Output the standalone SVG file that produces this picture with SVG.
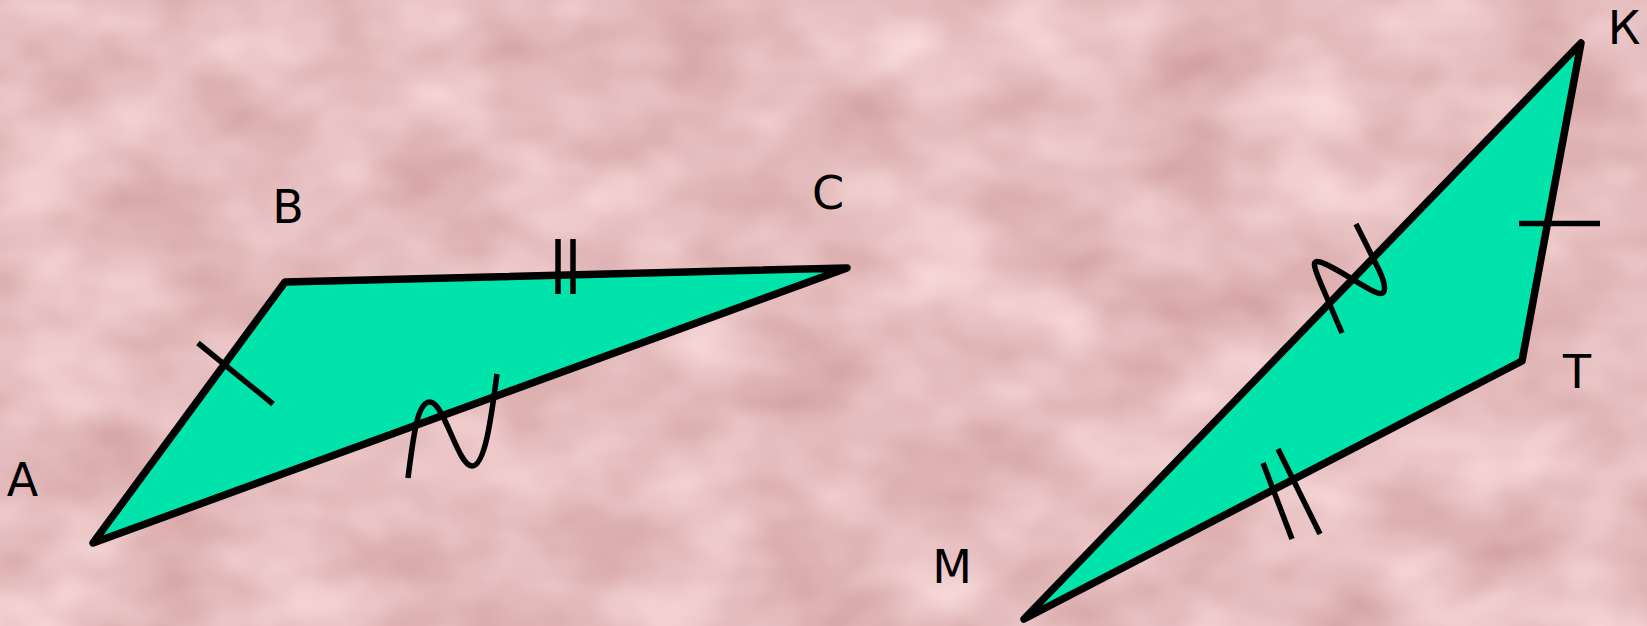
<svg xmlns="http://www.w3.org/2000/svg" width="1647" height="626" viewBox="0 0 1647 626">
<defs>
<filter id="mottle" x="0" y="0" width="100%" height="100%" color-interpolation-filters="sRGB">
<feTurbulence type="fractalNoise" baseFrequency="0.008 0.012" numOctaves="3" seed="7" result="n"/>
<feColorMatrix in="n" type="matrix" values="0.2 0 0 0 0.80  0.3 0 0 0 0.59  0.3 0 0 0 0.595  0 0 0 0 1"/>
</filter>
</defs>
<style>
.tri{fill:#00E3AA;stroke:#000;stroke-width:7.5;stroke-linejoin:round;stroke-linecap:round}
.mk{fill:none;stroke:#000;stroke-width:5.5}
.lbl{font-family:"DejaVu Sans",sans-serif;font-size:46px;fill:#000;text-anchor:middle}
</style>
<rect width="1647" height="626" fill="#E8C0C1"/>
<rect width="1647" height="626" filter="url(#mottle)"/>
<g id="triangle-ABC">
<polygon class="tri" points="93,543 285,282 847,268"/>
<line class="mk" x1="198" y1="343" x2="273" y2="404"/>
<line class="mk" x1="558" y1="239" x2="558" y2="294"/>
<line class="mk" x1="573" y1="239" x2="573" y2="294"/>
<path class="mk" d="M408 478 C414 430 418 402 430 402 C444 402 458 466 472 466 C486 466 492 410 497 374"/>
</g>
<g id="triangle-MKT">
<polygon class="tri" points="1024,619 1581,43 1522,361"/>
<line class="mk" x1="1519" y1="223.5" x2="1600" y2="223.5"/>
<line class="mk" x1="1263" y1="463" x2="1292" y2="539"/>
<line class="mk" x1="1278" y1="449" x2="1320" y2="534"/>
<path class="mk" d="M1342 333 L1321 284 C1313 265 1312 260 1320 262 C1332 265 1360 285 1375 292 C1388 298 1386 285 1379 270 L1356 224"/>
</g>
<g id="labels">
<text class="lbl" x="22.5" y="496">А</text>
<text class="lbl" x="288" y="223">В</text>
<text class="lbl" x="828" y="209">С</text>
<text class="lbl" x="1624" y="44">К</text>
<text class="lbl" x="1577" y="388">Т</text>
<text class="lbl" x="952" y="583">М</text>
</g>
</svg>
